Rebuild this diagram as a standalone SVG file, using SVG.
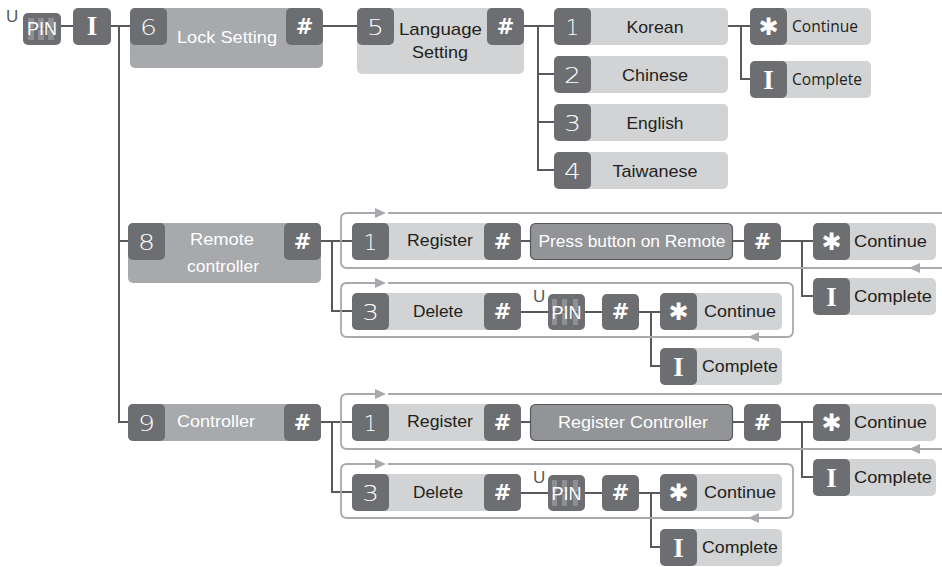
<svg xmlns="http://www.w3.org/2000/svg" width="942" height="567" viewBox="0 0 942 567">
<style>
.dk{fill:#6d6e71}
.lt{fill:#d1d3d4}
.md{fill:#a7a9ac}
.pb{fill:#929497;stroke:#58595b;stroke-width:1.2}
.sg{fill:#8e8f92}
.ln{stroke:#58595b;stroke-width:2;fill:none}
.lp{stroke:#a7a9ac;stroke-width:1.8;fill:none}
.ar{fill:#a7a9ac}
.t{font-family:"Liberation Sans",Arial,sans-serif;font-size:17px;fill:#231f20}
.tc{text-anchor:middle}
.w{fill:#ffffff}
.my{font-family:"Open Sans","Liberation Sans",sans-serif;font-size:17px;fill:#231f20}
.dg{font-family:"DejaVu Sans",sans-serif;font-weight:200;font-size:21px;fill:#ffffff;text-anchor:middle}
.hs{font-family:"DejaVu Sans",sans-serif;font-weight:bold;font-size:21px;fill:#ffffff;text-anchor:middle}
.st{font-family:"DejaVu Sans",sans-serif;font-size:24px;fill:#ffffff;text-anchor:middle}
.ib{font-family:"Liberation Serif",serif;font-weight:bold;font-size:27px;fill:#ffffff;text-anchor:middle}
.pin{font-family:"Liberation Sans",Arial,sans-serif;font-size:18px;fill:#ffffff}
.u{font-family:"Liberation Sans",Arial,sans-serif;font-size:17px;fill:#58595b}
</style>

<g id="connectors">
<path class="ln" d="M61 26 H73 M111 26 H130 M119 26 V422 H128 M119 241 H128 M323 26 H357 M524 26 H554 M538 26 V170 H554 M538 74 H554 M538 122 H554 M728 26 H750 M741 26 V79 H750"/>
<path class="ln" d="M321 241 H352 M332 241 V311 H352 M521 241 H530 M733 241 H744 M781 241 H813 M802 241 V296 H813 M521 312 H548 M585 312 H602 M639 312 H660 M651 312 V366 H660"/>
<path class="ln" d="M321 422 H352 M332 422 V492 H352 M521 422 H530 M733 422 H744 M781 422 H813 M802 422 V477 H813 M521 493 H548 M585 493 H602 M639 493 H660 M651 493 V547 H660"/>
<path class="lp" d="M376 213 H347 Q341 213 341 219 V262 Q341 268 347 268 H942 M388 213 H942"/>
<polygon class="ar" points="375,208 386,213 375,218"/>
<polygon class="ar" points="920,263 909,268 920,273"/>
<path class="lp" d="M376 283 H347 Q341 283 341 289 V331 Q341 337 347 337 H787 Q793 337 793 331 V289 Q793 283 787 283 H388"/>
<polygon class="ar" points="375,278 386,283 375,288"/>
<polygon class="ar" points="759,332 748,337 759,342"/>
<path class="lp" d="M376 394 H347 Q341 394 341 400 V443 Q341 449 347 449 H942 M388 394 H942"/>
<polygon class="ar" points="375,389 386,394 375,399"/>
<polygon class="ar" points="920,444 909,449 920,454"/>
<path class="lp" d="M376 464 H347 Q341 464 341 470 V512 Q341 518 347 518 H787 Q793 518 793 512 V470 Q793 464 787 464 H388"/>
<polygon class="ar" points="375,459 386,464 375,469"/>
<polygon class="ar" points="759,513 748,518 759,523"/>
</g>

<g id="pin1">
<text class="u" x="6" y="22">U</text>
<rect class="dk" x="23" y="13" width="38" height="32" rx="5"/>
<rect class="sg" x="28" y="18" width="6" height="10"/><rect class="sg" x="28" y="30" width="6" height="10"/>
<rect class="sg" x="38" y="18" width="6" height="10"/><rect class="sg" x="38" y="30" width="6" height="10"/>
<rect class="sg" x="48" y="18" width="6" height="10"/><rect class="sg" x="48" y="30" width="6" height="10"/>
<text class="pin" x="27" y="35" textLength="30" lengthAdjust="spacingAndGlyphs">PIN</text>
</g>
<g id="key-i">
<rect class="dk" x="73" y="8" width="38" height="37" rx="5"/>
<text class="ib" x="92" y="35">I</text>
</g>
<g id="lock">
<rect class="md" x="130" y="8" width="193" height="60" rx="5"/>
<rect class="dk" x="130" y="8" width="37" height="37" rx="5"/>
<text class="dg" x="148.5" y="35" textLength="17" lengthAdjust="spacingAndGlyphs">6</text>
<text class="t w" x="177" y="43" textLength="100" lengthAdjust="spacingAndGlyphs">Lock Setting</text>
<rect class="dk" x="286" y="8" width="37" height="37" rx="5"/>
<text class="hs" x="304.5" y="34">#</text>
</g>
<g id="language">
<rect class="lt" x="357" y="8" width="167" height="66" rx="5"/>
<rect class="dk" x="357" y="8" width="37" height="37" rx="5"/>
<text class="dg" x="375.5" y="35" textLength="17" lengthAdjust="spacingAndGlyphs">5</text>
<text class="t" x="399" y="35" textLength="83" lengthAdjust="spacingAndGlyphs">Language</text>
<text class="t tc" x="440" y="58" textLength="56" lengthAdjust="spacingAndGlyphs">Setting</text>
<rect class="dk" x="487" y="8" width="37" height="37" rx="5"/>
<text class="hs" x="505.5" y="34">#</text>
</g>
<g id="korean">
<rect class="lt" x="554" y="8" width="174" height="37" rx="5"/>
<rect class="dk" x="554" y="8" width="37" height="37" rx="5"/>
<text class="dg" x="572.5" y="35">1</text>
<text class="t tc" x="655" y="33" textLength="57" lengthAdjust="spacingAndGlyphs">Korean</text>
</g>
<g id="chinese">
<rect class="lt" x="554" y="56" width="174" height="37" rx="5"/>
<rect class="dk" x="554" y="56" width="37" height="37" rx="5"/>
<text class="dg" x="572.5" y="83" textLength="17" lengthAdjust="spacingAndGlyphs">2</text>
<text class="t tc" x="655" y="81" textLength="66" lengthAdjust="spacingAndGlyphs">Chinese</text>
</g>
<g id="english">
<rect class="lt" x="554" y="104" width="174" height="37" rx="5"/>
<rect class="dk" x="554" y="104" width="37" height="37" rx="5"/>
<text class="dg" x="572.5" y="131" textLength="17" lengthAdjust="spacingAndGlyphs">3</text>
<text class="t tc" x="655" y="129" textLength="57" lengthAdjust="spacingAndGlyphs">English</text>
</g>
<g id="taiwanese">
<rect class="lt" x="554" y="152" width="174" height="37" rx="5"/>
<rect class="dk" x="554" y="152" width="37" height="37" rx="5"/>
<text class="dg" x="572.5" y="179" textLength="17" lengthAdjust="spacingAndGlyphs">4</text>
<text class="t tc" x="655" y="177" textLength="85" lengthAdjust="spacingAndGlyphs">Taiwanese</text>
</g>
<g id="lang-continue">
<rect class="lt" x="750" y="8" width="121" height="37" rx="5"/>
<rect class="dk" x="750" y="8" width="37" height="37" rx="5"/>
<text class="st" x="768.5" y="35">✱</text>
<text class="my" x="792" y="32" textLength="66" lengthAdjust="spacingAndGlyphs">Continue</text>
</g>
<g id="lang-complete">
<rect class="lt" x="750" y="61" width="121" height="37" rx="5"/>
<rect class="dk" x="750" y="61" width="37" height="37" rx="5"/>
<text class="ib" x="768.5" y="89">I</text>
<text class="my" x="792" y="85" textLength="70" lengthAdjust="spacingAndGlyphs">Complete</text>
</g>

<g id="remote">
<rect class="md" x="128" y="223" width="193" height="60" rx="5"/>
<rect class="dk" x="128" y="223" width="37" height="37" rx="5"/>
<text class="dg" x="146.5" y="250" textLength="17" lengthAdjust="spacingAndGlyphs">8</text>
<text class="t tc w" x="222" y="245" textLength="64" lengthAdjust="spacingAndGlyphs">Remote</text>
<text class="t tc w" x="223" y="272" textLength="72" lengthAdjust="spacingAndGlyphs">controller</text>
<rect class="dk" x="284" y="223" width="37" height="37" rx="5"/>
<text class="hs" x="302.5" y="249">#</text>
</g>
<g id="remote-register">
<rect class="lt" x="352" y="223" width="169" height="37" rx="5"/>
<rect class="dk" x="352" y="223" width="37" height="37" rx="5"/>
<text class="dg" x="370.5" y="250">1</text>
<text class="t tc" x="440" y="246" textLength="66" lengthAdjust="spacingAndGlyphs">Register</text>
<rect class="dk" x="484" y="223" width="37" height="37" rx="5"/>
<text class="hs" x="502.5" y="249">#</text>
</g>
<g id="press-button">
<rect class="pb" x="530.5" y="223.5" width="202" height="36" rx="5"/>
<text class="t tc w" x="632" y="247" textLength="187" lengthAdjust="spacingAndGlyphs">Press button on Remote</text>
</g>
<g id="remote-register-hash">
<rect class="dk" x="744" y="223" width="37" height="37" rx="5"/>
<text class="hs" x="762.5" y="249">#</text>
</g>
<g id="remote-register-continue">
<rect class="lt" x="813" y="223" width="123" height="37" rx="5"/>
<rect class="dk" x="813" y="223" width="37" height="37" rx="5"/>
<text class="st" x="831.5" y="250">✱</text>
<text class="t" x="854" y="247" textLength="73" lengthAdjust="spacingAndGlyphs">Continue</text>
</g>
<g id="remote-register-complete">
<rect class="lt" x="813" y="278" width="123" height="37" rx="5"/>
<rect class="dk" x="813" y="278" width="37" height="37" rx="5"/>
<text class="ib" x="831.5" y="306">I</text>
<text class="t" x="854" y="302" textLength="78" lengthAdjust="spacingAndGlyphs">Complete</text>
</g>
<g id="remote-delete">
<rect class="lt" x="352" y="293" width="169" height="37" rx="5"/>
<rect class="dk" x="352" y="293" width="37" height="37" rx="5"/>
<text class="dg" x="370.5" y="320" textLength="17" lengthAdjust="spacingAndGlyphs">3</text>
<text class="t tc" x="438" y="317" textLength="50" lengthAdjust="spacingAndGlyphs">Delete</text>
<rect class="dk" x="484" y="293" width="37" height="37" rx="5"/>
<text class="hs" x="502.5" y="319">#</text>
</g>
<g id="remote-delete-pin">
<text class="u" x="533" y="302">U</text>
<rect class="dk" x="548" y="294" width="37" height="36" rx="5"/>
<rect class="sg" x="552" y="299" width="5" height="12"/><rect class="sg" x="552" y="313" width="5" height="12"/>
<rect class="sg" x="562" y="299" width="5" height="12"/><rect class="sg" x="562" y="313" width="5" height="12"/>
<rect class="sg" x="573" y="299" width="5" height="12"/><rect class="sg" x="573" y="313" width="5" height="12"/>
<text class="pin" x="551.5" y="319" textLength="30" lengthAdjust="spacingAndGlyphs">PIN</text>
</g>
<g id="remote-delete-hash">
<rect class="dk" x="602" y="294" width="37" height="36" rx="5"/>
<text class="hs" x="620.5" y="319">#</text>
</g>
<g id="remote-delete-continue">
<rect class="lt" x="660" y="293" width="122" height="37" rx="5"/>
<rect class="dk" x="660" y="293" width="37" height="37" rx="5"/>
<text class="st" x="678.5" y="320">✱</text>
<text class="t" x="704" y="317" textLength="72" lengthAdjust="spacingAndGlyphs">Continue</text>
</g>
<g id="remote-delete-complete">
<rect class="lt" x="660" y="348" width="122" height="37" rx="5"/>
<rect class="dk" x="660" y="348" width="37" height="37" rx="5"/>
<text class="ib" x="678.5" y="376">I</text>
<text class="t" x="702" y="372" textLength="76" lengthAdjust="spacingAndGlyphs">Complete</text>
</g>

<g id="controller">
<rect class="md" x="128" y="404" width="193" height="37" rx="5"/>
<rect class="dk" x="128" y="404" width="37" height="37" rx="5"/>
<text class="dg" x="146.5" y="431" textLength="17" lengthAdjust="spacingAndGlyphs">9</text>
<text class="t w" x="177" y="427" textLength="78" lengthAdjust="spacingAndGlyphs">Controller</text>
<rect class="dk" x="284" y="404" width="37" height="37" rx="5"/>
<text class="hs" x="302.5" y="430">#</text>
</g>
<g id="controller-register">
<rect class="lt" x="352" y="404" width="169" height="37" rx="5"/>
<rect class="dk" x="352" y="404" width="37" height="37" rx="5"/>
<text class="dg" x="370.5" y="431">1</text>
<text class="t tc" x="440" y="427" textLength="66" lengthAdjust="spacingAndGlyphs">Register</text>
<rect class="dk" x="484" y="404" width="37" height="37" rx="5"/>
<text class="hs" x="502.5" y="430">#</text>
</g>
<g id="register-controller">
<rect class="pb" x="530.5" y="404.5" width="202" height="36" rx="5"/>
<text class="t tc w" x="633" y="428" textLength="150" lengthAdjust="spacingAndGlyphs">Register Controller</text>
</g>
<g id="controller-register-hash">
<rect class="dk" x="744" y="404" width="37" height="37" rx="5"/>
<text class="hs" x="762.5" y="430">#</text>
</g>
<g id="controller-register-continue">
<rect class="lt" x="813" y="404" width="123" height="37" rx="5"/>
<rect class="dk" x="813" y="404" width="37" height="37" rx="5"/>
<text class="st" x="831.5" y="431">✱</text>
<text class="t" x="854" y="428" textLength="73" lengthAdjust="spacingAndGlyphs">Continue</text>
</g>
<g id="controller-register-complete">
<rect class="lt" x="813" y="459" width="123" height="37" rx="5"/>
<rect class="dk" x="813" y="459" width="37" height="37" rx="5"/>
<text class="ib" x="831.5" y="487">I</text>
<text class="t" x="854" y="483" textLength="78" lengthAdjust="spacingAndGlyphs">Complete</text>
</g>
<g id="controller-delete">
<rect class="lt" x="352" y="474" width="169" height="37" rx="5"/>
<rect class="dk" x="352" y="474" width="37" height="37" rx="5"/>
<text class="dg" x="370.5" y="501" textLength="17" lengthAdjust="spacingAndGlyphs">3</text>
<text class="t tc" x="438" y="498" textLength="50" lengthAdjust="spacingAndGlyphs">Delete</text>
<rect class="dk" x="484" y="474" width="37" height="37" rx="5"/>
<text class="hs" x="502.5" y="500">#</text>
</g>
<g id="controller-delete-pin">
<text class="u" x="533" y="483">U</text>
<rect class="dk" x="548" y="475" width="37" height="36" rx="5"/>
<rect class="sg" x="552" y="480" width="5" height="12"/><rect class="sg" x="552" y="494" width="5" height="12"/>
<rect class="sg" x="562" y="480" width="5" height="12"/><rect class="sg" x="562" y="494" width="5" height="12"/>
<rect class="sg" x="573" y="480" width="5" height="12"/><rect class="sg" x="573" y="494" width="5" height="12"/>
<text class="pin" x="551.5" y="500" textLength="30" lengthAdjust="spacingAndGlyphs">PIN</text>
</g>
<g id="controller-delete-hash">
<rect class="dk" x="602" y="475" width="37" height="36" rx="5"/>
<text class="hs" x="620.5" y="500">#</text>
</g>
<g id="controller-delete-continue">
<rect class="lt" x="660" y="474" width="122" height="37" rx="5"/>
<rect class="dk" x="660" y="474" width="37" height="37" rx="5"/>
<text class="st" x="678.5" y="501">✱</text>
<text class="t" x="704" y="498" textLength="72" lengthAdjust="spacingAndGlyphs">Continue</text>
</g>
<g id="controller-delete-complete">
<rect class="lt" x="660" y="529" width="122" height="37" rx="5"/>
<rect class="dk" x="660" y="529" width="37" height="37" rx="5"/>
<text class="ib" x="678.5" y="557">I</text>
<text class="t" x="702" y="553" textLength="76" lengthAdjust="spacingAndGlyphs">Complete</text>
</g>
</svg>
